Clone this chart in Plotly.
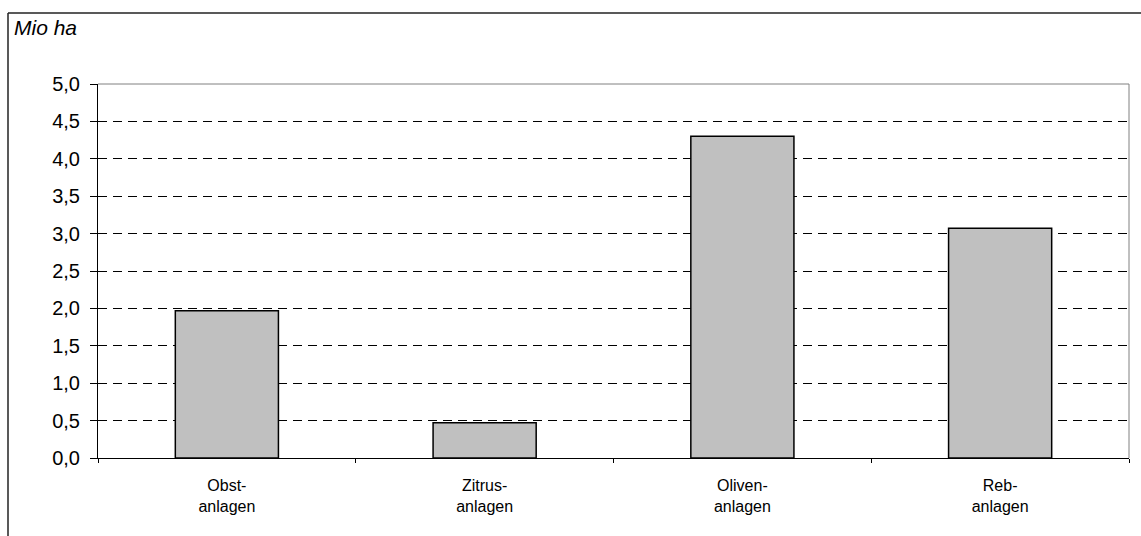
import plotly.graph_objects as go

categories = ["Obst-<br>anlagen", "Zitrus-<br>anlagen", "Oliven-<br>anlagen", "Reb-<br>anlagen"]
values = [1.97, 0.47, 4.30, 3.07]
y_ticks = [0.0, 0.5, 1.0, 1.5, 2.0, 2.5, 3.0, 3.5, 4.0, 4.5, 5.0]

W, H = 1141, 536
ML, MR, MT, MB = 98, 12, 84, 78
pw, ph = W - ML - MR, H - MT - MB

def px_x(p):
    return (p - ML) / pw

def px_y(p):
    return (H - MB - p) / ph

FONT = "Arial, 'Liberation Sans', sans-serif"

fig = go.Figure(go.Bar(
    x=categories, y=values,
    marker=dict(color="#C0C0C0", line=dict(color="#000000", width=1.5)),
    width=0.4,
))

fig.update_layout(
    width=W, height=H,
    margin=dict(l=ML, r=MR, t=MT, b=MB),
    paper_bgcolor="white", plot_bgcolor="white",
    separators=",.",
    showlegend=False,
    font=dict(family=FONT, color="#000000"),
    shapes=[
        dict(type="line", xref="paper", yref="paper", x0=0, x1=1, y0=1, y1=1,
             line=dict(color="#808080", width=1), layer="above"),
        dict(type="line", xref="paper", yref="paper", x0=1, x1=1, y0=0, y1=1,
             line=dict(color="#808080", width=1), layer="above"),
        dict(type="line", xref="paper", yref="paper", x0=px_x(8), x1=1.05,
             y0=px_y(13), y1=px_y(13), line=dict(color="#222222", width=1.5)),
        dict(type="line", xref="paper", yref="paper", x0=px_x(8), x1=px_x(8),
             y0=px_y(13), y1=-0.3, line=dict(color="#222222", width=1.5)),
    ],
    annotations=[
        dict(text="<i>Mio ha</i>", xref="paper", yref="paper", x=px_x(12), y=px_y(27),
             xanchor="left", yanchor="middle", showarrow=False,
             font=dict(size=21, family=FONT, color="#000000")),
    ],
)

fig.update_xaxes(
    type="category",
    tickson="boundaries",
    ticks="outside", ticklen=4, tickcolor="#000000",
    showline=True, linecolor="#000000", linewidth=1,
    showgrid=False,
    tickfont=dict(size=16, family=FONT, color="#000000"),
    ticklabelstandoff=13,
    range=[-0.5, 3.5],
)

fig.update_yaxes(
    range=[0, 5],
    tickvals=y_ticks,
    tickformat=".1f",
    ticks="outside", ticklen=7, tickcolor="#000000",
    showline=True, linecolor="#000000", linewidth=1,
    zeroline=False,
    showgrid=True, gridcolor="#000000", gridwidth=1, griddash="9px,6px",
    tickfont=dict(size=20, family=FONT, color="#000000"),
    ticklabelstandoff=6,
)

fig.write_html(
    "out.html",
    config={"displayModeBar": False},
    post_script="document.body.style.margin='0';document.body.style.padding='0';",
)
